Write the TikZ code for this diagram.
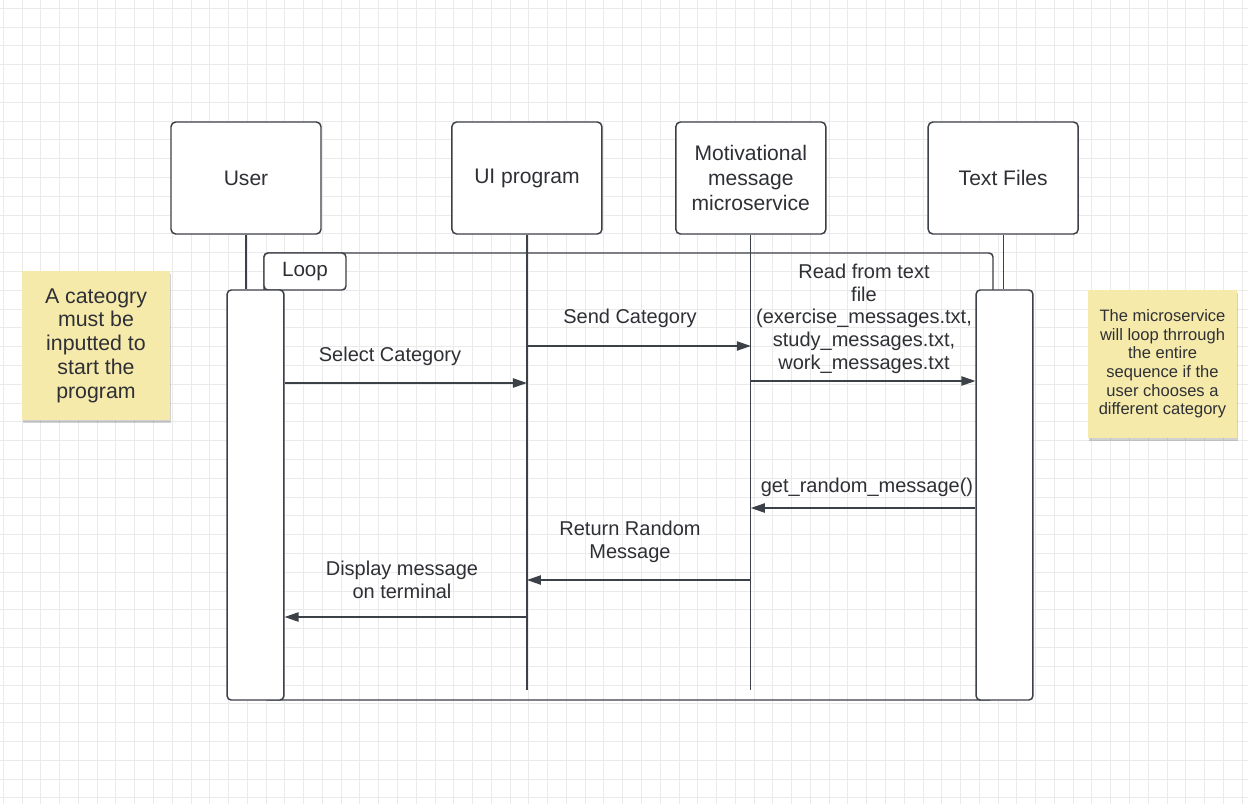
\documentclass[tikz,border=0pt]{standalone}
\usepackage{fontspec}
\setmainfont{Liberation Sans}
\usetikzlibrary{arrows.meta, positioning, shadows}
\definecolor{linec}{HTML}{3C4047}
\definecolor{textc}{HTML}{2E3035}
\definecolor{gridc}{HTML}{EAEAEA}
\definecolor{notec}{HTML}{F6EAAB}

\begin{document}
\begin{tikzpicture}[
                x=0.75pt, y=-0.75pt,
                head/.style={rectangle, rounded corners=3.5pt, draw=linec, line width=1.1pt, fill=white, text=textc, minimum width=112.5pt, minimum height=84pt, align=center, font=\fontsize{15.8}{18.8}\selectfont},
                actbox/.style={rectangle, rounded corners=3pt, draw=linec, line width=1.1pt, fill=white, minimum width=42.5pt, minimum height=307.5pt, inner sep=0pt},
                lifeline/.style={draw=linec, line width=1pt},
                msg/.style={draw=linec, line width=0.9pt, -{Triangle[length=10.5pt, width=7pt]}},
                lbl/.style={align=center, text=textc, font=\fontsize{15}{17}\selectfont},
                note/.style={rectangle, fill=notec, text=textc, align=center, inner sep=0pt, drop shadow={shadow xshift=0.5pt, shadow yshift=-2.5pt, fill=black, opacity=0.18}}
            ]
            % page and grid
            \fill[white] (0,0) rectangle (1248,804);
            \useasboundingbox (0,0) rectangle (1248,804);
            \foreach \i in {0,...,66} {
                \draw[gridc, line width=0.75pt] ({3.3+\i*18.77},0) -- ({3.3+\i*18.77},804);
            }
            \foreach \j in {0,...,42} {
                \draw[gridc, line width=0.75pt] (0,{8.3+\j*18.8}) -- (1248,{8.3+\j*18.8});
            }

            % participants
            \node[head] (user) at (246,178) {User};
            \node[head, right=97.1pt of user] (ui) {UI program};
            \node[head, right=54.3pt of ui] (motiv) {Motivational\\message\\microservice};
            \node[head, right=75.7pt of motiv] (files) {Text Files};

            % loop frame
            \node[rectangle, rounded corners=3pt, draw=linec, line width=1.1pt, minimum width=546.75pt, minimum height=335.25pt] (loop) at (628.5,476.5) {};
            \node[rectangle, rounded corners=3pt, draw=linec, line width=1.1pt, fill=white, text=textc, minimum width=61.5pt, minimum height=27.75pt, anchor=north west, font=\fontsize{15.5}{18}\selectfont] (looptab) at (loop.north west) {Loop};

            % lifelines
            \coordinate (uiend) at (ui.south |- 0,690);
            \coordinate (motivend) at (motiv.south |- 0,690);
            \draw[lifeline] (ui.south) -- (uiend);
            \draw[lifeline] (motiv.south) -- (motivend);

            \node[actbox] (uact) at (255.5,495) {};
            \node[actbox] (fact) at (1004.5,495) {};
            \draw[lifeline] (user.south) -- (user.south |- uact.north);
            \draw[lifeline] (files.south) -- (files.south |- fact.north);

            % messages
            \draw[msg] (uact.east |- 0,383) -- (ui.south |- 0,383);
            \node[lbl] (sellbl) at (390,356) {Select Category};

            \draw[msg] (ui.south |- 0,346) -- (motiv.south |- 0,346);
            \node[lbl] (sendlbl) at (630,318) {Send Category};

            \draw[msg] (motiv.south |- 0,381) -- (fact.west |- 0,381);
            \node[lbl] (readlbl) at (864,318.5) {Read from text\\file\\(exercise\_messages.txt,\\study\_messages.txt,\\work\_messages.txt};

            \draw[msg] (fact.west |- 0,508) -- (motiv.south |- 0,508);
            \node[lbl] (getlbl) at (867,487) {get\_random\_message()};

            \draw[msg] (motiv.south |- 0,580) -- (ui.south |- 0,580);
            \node[lbl] (retlbl) at (630,542) {Return Random\\Message};

            \draw[msg] (ui.south |- 0,617) -- (uact.east |- 0,617);
            \node[lbl] (displbl) at (402,580) {Display message\\on terminal};

            % sticky notes
            \node[note, minimum width=111pt, minimum height=111.75pt, font=\fontsize{16}{17.8}\selectfont] (leftnote) at (96,345.5) {A cateogry\\must be\\inputted to\\start the\\program};
            \node[note, minimum width=111.75pt, minimum height=111pt, font=\fontsize{12.4}{14}\selectfont] (rightnote) at (1162.5,364) {The microservice\\will loop thrrough\\the entire\\sequence if the\\user chooses a\\different category};

        \end{tikzpicture}
\end{document}
